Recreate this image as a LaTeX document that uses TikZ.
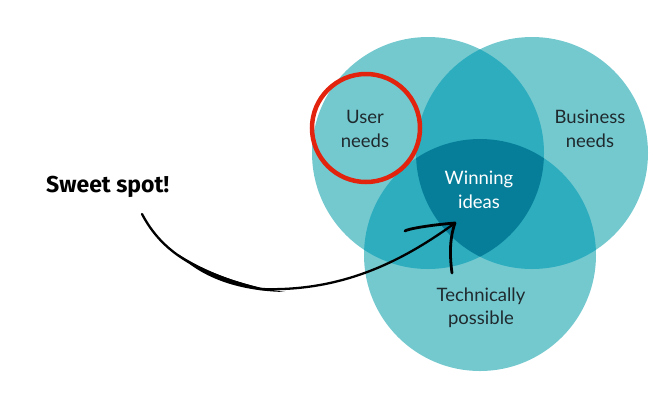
\documentclass[tikz,border=0pt]{standalone}
\usepackage{fontspec}
\setmainfont{Lato}
\newfontfamily\sweetfont{Fira Sans}
\definecolor{tlight}{HTML}{74C9CF}
\definecolor{tmid}{HTML}{2DADBE}
\definecolor{tdark}{HTML}{067E9A}
\definecolor{ringred}{HTML}{E2240F}
\definecolor{txt}{HTML}{1F2A2E}
\begin{document}
\begin{tikzpicture}[x=1pt,y=-1pt,
  lbl/.style={align=center,font=\fontsize{18.5}{23.5}\selectfont,text=txt,inner sep=0pt},
  venn/.style={circle,minimum size=232pt,inner sep=0pt},
  headline/.style={line width=2.8pt,line cap=round}]
\useasboundingbox (0,0) rectangle (670,400);
% circle nodes (invisible) for naming
\node[venn] (user) at (428,153) {};
\node[venn] (biz) at (532,153) {};
\node[venn] (tech) at (480,255) {};
% fills
\fill[tlight] (user.center) circle (116);
\fill[tlight] (biz.center) circle (116);
\fill[tlight] (tech.center) circle (116);
\begin{scope}
  \clip (user.center) circle (116);
  \fill[tmid] (biz.center) circle (116);
  \fill[tmid] (tech.center) circle (116);
\end{scope}
\begin{scope}
  \clip (biz.center) circle (116);
  \fill[tmid] (tech.center) circle (116);
\end{scope}
\begin{scope}
  \clip (user.center) circle (116);
  \clip (biz.center) circle (116);
  \fill[tdark] (tech.center) circle (116);
\end{scope}
% labels
\node[lbl] (usertext) at (365,129) {User\\needs};
\node[lbl] (biztext) at (590,129) {Business\\needs};
\node[lbl,text=white] (win) at (479,190) {Winning\\ideas};
\node[lbl] (techtext) at (481,308) {Technically\\possible};
% red ring
\node[circle,draw=ringred,line width=4.5pt,minimum size=108pt,inner sep=0pt] (ring) at (366,128) {};
% sweet spot
\node[font=\sweetfont\bfseries\fontsize{23}{26}\selectfont,inner sep=0pt,anchor=west] (sweet) at (46,187) {Sweet spot!};
% arrow
\coordinate (start) at (142,214);
\coordinate (mid) at (260,289);
\coordinate (tip) at (455,223);
\coordinate (headL) at (405,231);
\coordinate (headB) at (452,273);
\draw[line width=2.3pt,line cap=round] (start) .. controls (162,252) and (195,272) .. (mid)
   .. controls (340,292) and (400,263) .. (tip);
\fill[black] (178,254) .. controls (200,276) and (235,291) .. (285,292)
   .. controls (235,285) and (200,268) .. (178,254) -- cycle;
\draw[headline] (headL) .. controls (407,229) and (430,225) .. (tip);
\draw[headline] (tip) .. controls (449,240) and (450,258) .. (headB);
\end{tikzpicture}
\end{document}
